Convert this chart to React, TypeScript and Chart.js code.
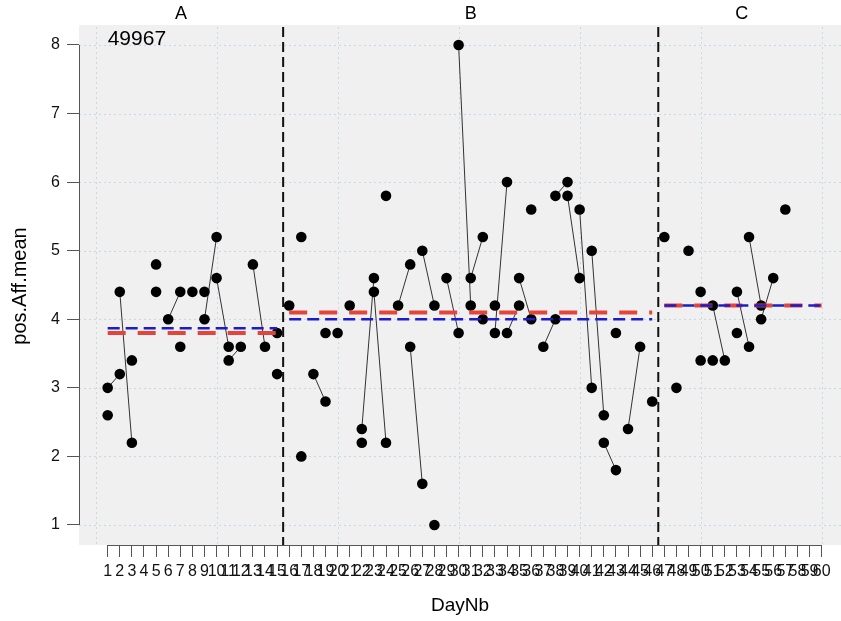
import React, { useEffect, useRef } from "react";
import { Chart, registerables } from "chart.js";

Chart.register(...registerables);

// ---------- data ----------
const panelNames = ["A", "B", "C"];
const panelDayRanges = [
  [1, 15],
  [16, 46],
  [47, 60],
];
const panelDividers = [15.5, 46.5];
const panelLabelBounds = [
  [-1.37, 15.5],
  [15.5, 46.5],
  [46.5, 60.3],
];
const meanValues = [3.87, 4.0, 4.2]; // blue dashed
const medianValues = [3.8, 4.1, 4.2]; // red dashed

const pointDays = [
  // A
  1, 1, 2, 2, 3, 3, 5, 5, 6, 7, 7, 8, 9, 9, 10, 10, 11, 11, 12, 13, 14, 15, 15,
  // B
  16, 17, 17, 18, 19, 19, 20, 21, 22, 22, 23, 23, 24, 24, 25, 26, 26, 27, 27, 28, 28, 29, 30, 30,
  31, 31, 32, 32, 33, 33, 34, 34, 35, 35, 36, 36, 37, 38, 38, 39, 39, 40, 40, 41, 41, 42, 42, 43,
  43, 44, 45, 46,
  // C
  47, 48, 49, 50, 50, 51, 51, 52, 53, 53, 54, 54, 55, 55, 56, 57,
];
const pointValues = [
  // A
  3.0, 2.6, 3.2, 4.4, 3.4, 2.2, 4.8, 4.4, 4.0, 4.4, 3.6, 4.4, 4.4, 4.0, 5.2, 4.6, 3.6, 3.4, 3.6, 4.8, 3.6, 3.8, 3.2,
  // B
  4.2, 5.2, 2.0, 3.2, 2.8, 3.8, 3.8, 4.2, 2.4, 2.2, 4.6, 4.4, 2.2, 5.8, 4.2, 4.8, 3.6, 1.6, 5.0, 4.2, 1.0, 4.6, 3.8, 8.0,
  4.6, 4.2, 5.2, 4.0, 4.2, 3.8, 6.0, 3.8, 4.6, 4.2, 4.0, 5.6, 3.6, 4.0, 5.8, 6.0, 5.8, 4.6, 5.6, 3.0, 5.0, 2.6, 2.2, 1.8,
  3.8, 2.4, 3.6, 2.8,
  // C
  5.2, 3.0, 5.0, 4.4, 3.4, 4.2, 3.4, 3.4, 4.4, 3.8, 5.2, 3.6, 4.2, 4.0, 4.6, 5.6,
];

// connected pairs: [dayFrom, valueFrom, dayTo, valueTo]
const segments = [
  [1, 3.0, 2, 3.2], [2, 4.4, 3, 2.2], [6, 4.0, 7, 4.4], [9, 4.0, 10, 5.2], [10, 4.6, 11, 3.6],
  [11, 3.4, 12, 3.6], [13, 4.8, 14, 3.6],
  [18, 3.2, 19, 2.8], [22, 2.4, 23, 4.6], [23, 4.4, 24, 2.2], [25, 4.2, 26, 4.8], [26, 3.6, 27, 1.6],
  [27, 5.0, 28, 4.2], [29, 4.6, 30, 3.8], [30, 8.0, 31, 4.2], [31, 4.6, 32, 5.2], [33, 3.8, 34, 6.0],
  [34, 3.8, 35, 4.2], [35, 4.6, 36, 4.0], [37, 3.6, 38, 4.0], [38, 5.8, 39, 6.0], [39, 5.8, 40, 4.6],
  [40, 5.6, 41, 3.0], [41, 5.0, 42, 2.6], [42, 2.2, 43, 1.8], [44, 2.4, 45, 3.6],
  [51, 4.2, 52, 3.4], [53, 4.4, 54, 3.6], [54, 5.2, 55, 4.2], [55, 4.0, 56, 4.6],
];

const xTickValues = Array.from({ length: 60 }, (_, i) => i + 1);
const yTickValues = [1, 2, 3, 4, 5, 6, 7, 8];
const xGridValues = [0, 10, 20, 30, 40, 50, 60];
const idLabel = "49967";
const xTitle = "DayNb";
const yTitle = "pos.Aff.mean";

const FONT = "'Liberation Sans', Arial, Helvetica, sans-serif";

const decorPlugin = {
  id: "decor",
  beforeDatasetsDraw(chart: any) {
    const { ctx, chartArea: ca, scales } = chart;
    const xs = scales.x;
    const ys = scales.y;
    ctx.save();
    ctx.fillStyle = "#f0f0f0";
    ctx.fillRect(ca.left, ca.top - 2, ca.right - ca.left, ca.bottom - ca.top + 2);
    ctx.strokeStyle = "#c4dbe2";
    ctx.lineWidth = 1;
    ctx.setLineDash([2, 3]);
    yTickValues.forEach((v) => {
      const y = Math.round(ys.getPixelForValue(v)) + 0.5;
      ctx.beginPath();
      ctx.moveTo(ca.left, y);
      ctx.lineTo(ca.right, y);
      ctx.stroke();
    });
    xGridValues.forEach((v) => {
      const x = Math.round(xs.getPixelForValue(v)) + 0.5;
      ctx.beginPath();
      ctx.moveTo(x, ca.top);
      ctx.lineTo(x, ca.bottom);
      ctx.stroke();
    });
    // panel dividers
    ctx.strokeStyle = "#111";
    ctx.lineWidth = 2;
    ctx.setLineDash([10, 5]);
    panelDividers.forEach((v) => {
      const x = xs.getPixelForValue(v);
      ctx.beginPath();
      ctx.moveTo(x, ca.top);
      ctx.lineTo(x, ca.bottom);
      ctx.stroke();
    });
    ctx.restore();
  },
  afterDraw(chart: any) {
    const { ctx, chartArea: ca, scales } = chart;
    const xs = scales.x;
    const ys = scales.y;
    ctx.save();
    // axis lines
    ctx.strokeStyle = "#555";
    ctx.lineWidth = 1;
    ctx.setLineDash([]);
    ctx.beginPath();
    ctx.moveTo(ca.left + 0.5, ys.getPixelForValue(yTickValues[yTickValues.length - 1]));
    ctx.lineTo(ca.left + 0.5, ys.getPixelForValue(yTickValues[0]));
    ctx.stroke();
    ctx.beginPath();
    ctx.moveTo(xs.getPixelForValue(xTickValues[0]), ca.bottom + 0.5);
    ctx.lineTo(xs.getPixelForValue(xTickValues[xTickValues.length - 1]), ca.bottom + 0.5);
    ctx.stroke();

    ctx.fillStyle = "#000";
    ctx.textAlign = "center";
    ctx.textBaseline = "middle";
    ctx.font = `18px ${FONT}`;
    panelNames.forEach((name, i) => {
      const [a, b] = panelLabelBounds[i];
      const x = (xs.getPixelForValue(a) + xs.getPixelForValue(b)) / 2;
      ctx.fillText(name, x, 14);
    });
    ctx.textAlign = "left";
    ctx.font = `21px ${FONT}`;
    ctx.fillText(idLabel, xs.getPixelForValue(1), 39);

    ctx.textAlign = "center";
    ctx.font = `19px ${FONT}`;
    ctx.fillText(xTitle, (ca.left + ca.right) / 2, 606);
    ctx.font = `20px ${FONT}`;
    ctx.translate(20, (ca.top + ca.bottom) / 2);
    ctx.rotate(-Math.PI / 2);
    ctx.fillText(yTitle, 0, 0);
    ctx.restore();
  },
};

export default function App() {
  const ref = useRef<HTMLCanvasElement | null>(null);

  useEffect(() => {
    if (!ref.current) return;
    const datasets: any[] = [];

    panelDayRanges.forEach(([a, b], i) => {
      datasets.push({
        data: [
          { x: a, y: meanValues[i] },
          { x: b, y: meanValues[i] },
        ],
        showLine: true,
        borderColor: "#1c1cc8",
        borderWidth: 2.5,
        borderDash: [12, 6],
        pointRadius: 0,
        order: 0,
      });
      datasets.push({
        data: [
          { x: a, y: medianValues[i] },
          { x: b, y: medianValues[i] },
        ],
        showLine: true,
        borderColor: "#e5443a",
        borderWidth: 4,
        borderDash: [18, 12],
        pointRadius: 0,
        order: 1,
      });
    });

    datasets.push({
      data: pointDays.map((d, i) => ({ x: d, y: pointValues[i] })),
      showLine: false,
      pointRadius: 5.3,
      pointBackgroundColor: "#000",
      pointBorderWidth: 0,
      order: 2,
    });

    segments.forEach(([d1, v1, d2, v2]) => {
      datasets.push({
        data: [
          { x: d1, y: v1 },
          { x: d2, y: v2 },
        ],
        showLine: true,
        borderColor: "#333",
        borderWidth: 1,
        pointRadius: 0,
        order: 3,
      });
    });

    const chart = new Chart(ref.current, {
      type: "scatter",
      data: { datasets },
      plugins: [decorPlugin],
      options: {
        responsive: false,
        animation: false,
        events: [],
        layout: { autoPadding: false, padding: { top: 27, left: 0, right: 0, bottom: 0 } },
        plugins: { legend: { display: false }, tooltip: { enabled: false } },
        scales: {
          x: {
            type: "linear",
            min: -1.37,
            max: 61.6,
            afterBuildTicks: (scale: any) => {
              scale.ticks = xTickValues.map((v) => ({ value: v }));
            },
            afterFit: (scale: any) => {
              scale.height = 76;
              scale.paddingLeft = 0;
              scale.paddingRight = 0;
            },
            ticks: {
              autoSkip: false,
              maxRotation: 0,
              minRotation: 0,
              padding: 5,
              color: "#111",
              font: { family: FONT, size: 16 },
              callback: (v: any) => String(v),
            },
            grid: {
              drawOnChartArea: false,
              drawTicks: true,
              tickLength: 12,
              color: "#555",
              lineWidth: 1,
            },
            border: { display: false },
          },
          y: {
            type: "linear",
            min: 0.708,
            max: 8.262,
            afterBuildTicks: (scale: any) => {
              scale.ticks = yTickValues.map((v) => ({ value: v }));
            },
            afterFit: (scale: any) => {
              scale.width = 79;
              scale.paddingTop = 0;
              scale.paddingBottom = 0;
            },
            ticks: {
              padding: 7,
              color: "#111",
              font: { family: FONT, size: 16 },
              callback: (v: any) => String(v),
            },
            grid: {
              drawOnChartArea: false,
              drawTicks: true,
              tickLength: 12,
              color: "#555",
              lineWidth: 1,
            },
            border: { display: false },
          },
        },
      },
    });
    return () => chart.destroy();
  }, []);

  return (
    <div style={{ position: "fixed", left: 0, top: 0, width: 841, height: 621, background: "#fff" }}>
      <canvas ref={ref} width={841} height={621} style={{ width: 841, height: 621, display: "block" }} />
    </div>
  );
}
